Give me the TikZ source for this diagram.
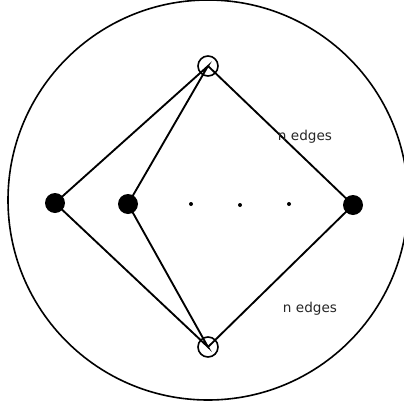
\documentclass[tikz,border=0pt]{standalone}
\usepackage{fontspec}
\setsansfont{DejaVu Sans}
\begin{document}
\begin{tikzpicture}[x=0.75pt, y=-0.75pt, line width=1.4pt]
        \useasboundingbox (0,0) rectangle (404,404);
        \clip (0,0) rectangle (404,404);
        % Outer circle
        \draw[line width=1.2pt] (208,200) circle [radius=150pt];

        % Nodes
        \node (T) [draw, circle, minimum size=15pt, inner sep=0pt, line width=1.2pt] at (208,66) {};
        \node (B) [draw, circle, minimum size=15pt, inner sep=0pt, line width=1.2pt] at (208,347) {};
        \node (L1) [fill, circle, minimum size=15pt, inner sep=0pt] at (55,203) {};
        \node (L2) [fill, circle, minimum size=15pt, inner sep=0pt] at (128,204) {};
        \node (R) [fill, circle, minimum size=15pt, inner sep=0pt] at (353,205) {};
        \node (D1) [fill, circle, minimum size=3pt, inner sep=0pt] at (191,204) {};
        \node (D2) [fill, circle, minimum size=3pt, inner sep=0pt] at (240,205) {};
        \node (D3) [fill, circle, minimum size=3pt, inner sep=0pt] at (289,204) {};

        % Edges
        \draw (L1.center) -- (T.center) -- (L2.center) -- (B.center) -- (L1.center);
        \draw (T.center) -- (R.center) -- (B.center);

        % Labels
        \node (E1) [font=\sffamily\fontsize{10.2}{12}\selectfont, text=black!85] at (305,137) {n edges};
        \node (E2) [font=\sffamily\fontsize{10.2}{12}\selectfont, text=black!85] at (310,309) {n edges};
    \end{tikzpicture}
\end{document}
